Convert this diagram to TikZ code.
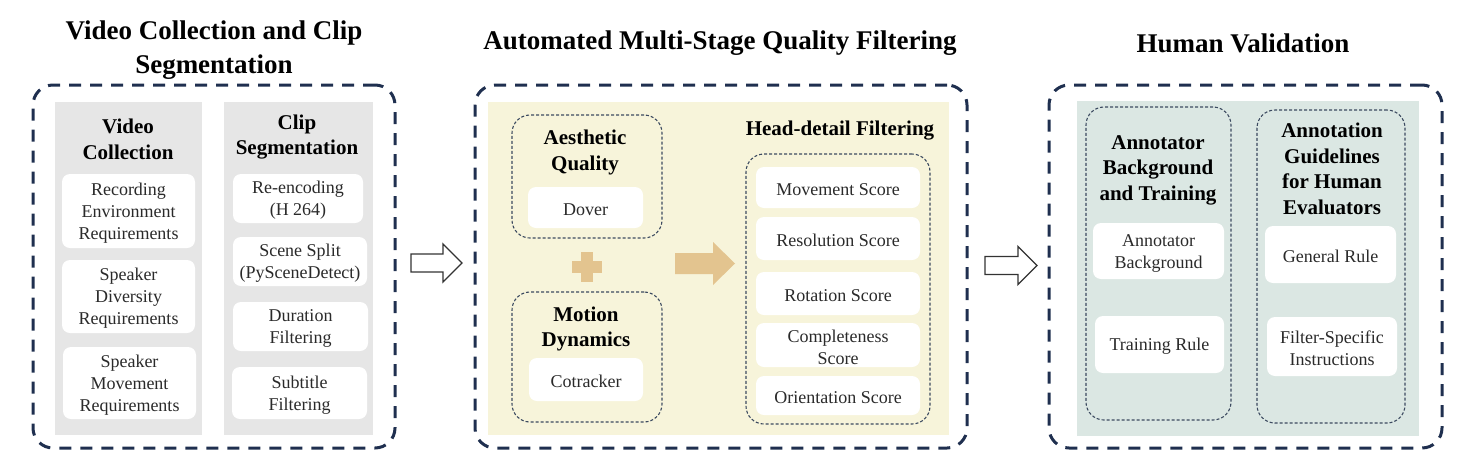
\documentclass[tikz,border=0pt]{standalone}
\usepackage{fontspec}
\setmainfont{Liberation Serif}[Ligatures=TeX]
\definecolor{navy}{HTML}{1F2F4F}
\definecolor{navylt}{HTML}{3C4A60}
\definecolor{grayfill}{HTML}{E6E6E6}
\definecolor{creamfill}{HTML}{F7F4DA}
\definecolor{tealfill}{HTML}{DBE7E3}
\definecolor{tan}{HTML}{E3C48F}
\definecolor{txt}{HTML}{2A2A2A}
\tikzset{
  x=1pt, y=-1pt,
  outerbox/.style={draw=navy, line width=3pt, dash pattern=on 12pt off 9pt, rounded corners=20pt},
  areafill/.style={fill=#1, draw=none, inner sep=0pt},
  innerdash/.style={draw=navylt, line width=1.1pt, dash pattern=on 3pt off 2pt, rounded corners=18pt, inner sep=0pt},
  wbox/.style={fill=white, draw=none, rounded corners=8pt, inner sep=0pt},
  wtext/.style={align=center, inner sep=0pt, text=txt, font=\fontsize{18}{22}\selectfont, yshift=-2pt},
  hdr/.style={align=center, inner sep=0pt, font=\bfseries\fontsize{21}{25.5}\selectfont},
  ttl/.style={align=center, inner sep=0pt, font=\bfseries\fontsize{27}{34}\selectfont},
  hollowarrow/.style={draw=black!80, line width=1.3pt, fill=white, line join=miter},
}
% plain rectangle node: style, name, centre, width, height
\newcommand{\bx}[5]{\node[#1, minimum width=#4pt, minimum height=#5pt] (#2) at (#3) {};}
% white box with its text: name, centre, width, height, text
\newcommand{\wb}[5]{\node[wbox, minimum width=#3pt, minimum height=#4pt] (#1) at (#2) {};
  \node[wtext] (#1-t) at (#1.center) {#5};}
\begin{document}
\begin{tikzpicture}
\useasboundingbox (0,0) rectangle (1473,472);

% ---------- Panel 1 ----------
\node[ttl] (t1) at (214,50) {Video Collection and Clip\\Segmentation};
\bx{outerbox}{p1}{214,266.5}{362}{363}
\bx{areafill=grayfill}{c1}{128.5,268.5}{147}{333}
\bx{areafill=grayfill}{c2}{298.5,268.5}{149}{333}
\node[hdr] (h1) at (128,139.5) {Video\\Collection};
\node[hdr] (h2) at (297,137) {Clip\\Segmentation};
\wb{re}{128.5,211}{133}{74}{Recording\\Environment\\Requirements}
\wb{sd}{128.5,296.5}{133}{73}{Speaker\\Diversity\\Requirements}
\wb{sm}{129.5,383}{133}{72}{Speaker\\Movement\\Requirements}
\wb{enc}{298,198.5}{130}{49}{Re-encoding\\(H 264)}
\wb{ss}{300,261.5}{134}{49}{Scene Split\\(PySceneDetect)}
\wb{df}{300.5,326.5}{135}{49}{Duration\\Filtering}
\wb{sf}{299.5,393}{135}{52}{Subtitle\\Filtering}

% ---------- Arrow 1 ----------
\coordinate (a1) at (411,263);
\draw[hollowarrow] (a1) ++(0,-9) -- ++(32,0) -- ++(0,-10) -- ++(19,19) -- ++(-19,19) -- ++(0,-10) -- ++(-32,0) -- cycle;

% ---------- Panel 2 ----------
\node[ttl] (t2) at (720,43) {Automated Multi-Stage Quality Filtering};
\bx{outerbox}{p2}{721,266.5}{492}{363}
\bx{areafill=creamfill}{c3}{718.5,268.5}{461}{333}
\bx{innerdash}{aq}{587,176.5}{150}{123}
\node[hdr] (h3) at (585,152.5) {Aesthetic\\Quality};
\wb{dover}{585.5,207.5}{115}{41}{Dover}
\bx{innerdash}{md}{587,357}{150}{130}
\node[hdr] (h4) at (586,329) {Motion\\Dynamics};
\wb{cot}{586,379.5}{114}{43}{Cotracker}
% plus sign
\coordinate (plus) at (587,267);
\fill[tan] (plus) ++(-15,-6) rectangle ++(30,12);
\fill[tan] (plus) ++(-6,-15) rectangle ++(12,30);
% fat arrow
\coordinate (fa) at (675,263.5);
\fill[tan] (fa) ++(0,-10.5) -- ++(38,0) -- ++(0,-11) -- ++(22,21.5) -- ++(-22,21.5) -- ++(0,-11) -- ++(-38,0) -- cycle;
\node[hdr] (h5) at (840,130.5) {Head-detail Filtering};
\bx{innerdash}{hd}{838,289}{184}{270}
\wb{ms}{838,187.5}{164}{41}{Movement Score}
\wb{rs}{838,238.5}{164}{43}{Resolution Score}
\wb{ros}{838,293.5}{164}{43}{Rotation Score}
\wb{cs}{838,345}{164}{44}{Completeness\\Score}
\wb{os}{838,395.5}{164}{39}{Orientation Score}

% ---------- Arrow 2 ----------
\coordinate (a2) at (985,265.5);
\draw[hollowarrow] (a2) ++(0,-9) -- ++(33,0) -- ++(0,-10) -- ++(19,19) -- ++(-19,19) -- ++(0,-10) -- ++(-33,0) -- cycle;

% ---------- Panel 3 ----------
\node[ttl] (t3) at (1243,43) {Human Validation};
\bx{outerbox}{p3}{1245.5,266.5}{393}{363}
\bx{areafill=tealfill}{c4}{1248,268.5}{342}{335}
\bx{innerdash}{ab}{1158.5,263.5}{145}{313}
\node[hdr] (h6) at (1158,170) {Annotator\\Background\\and Training};
\wb{anb}{1158.5,251}{131}{56}{Annotator\\Background}
\wb{tr}{1159.5,344.5}{129}{57}{Training Rule}
\bx{innerdash}{ag}{1331,266.5}{148}{313}
\node[hdr] (h7) at (1332,169) {Annotation\\Guidelines\\for Human\\Evaluators};
\wb{gr}{1330.5,254.5}{131}{57}{General Rule}
\wb{fs}{1332,346.5}{130}{59}{Filter-Specific\\Instructions}
\end{tikzpicture}
\end{document}
